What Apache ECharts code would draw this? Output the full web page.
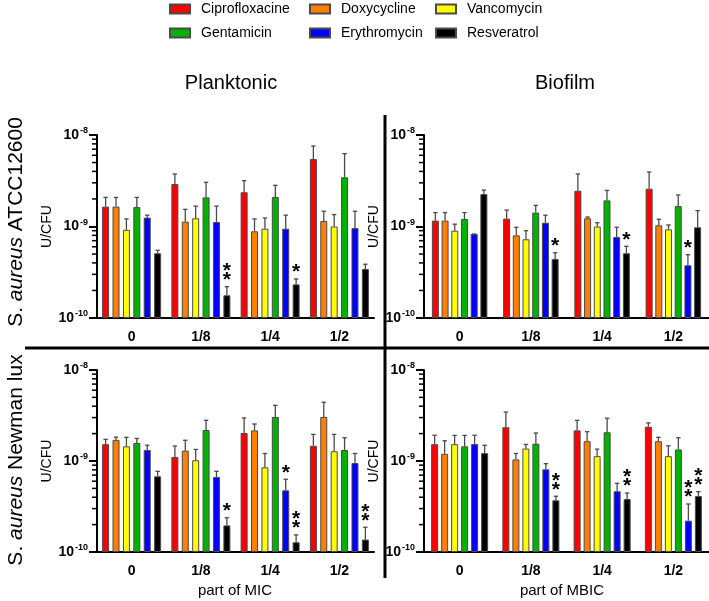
<!DOCTYPE html>
<html>
<head>
<meta charset="utf-8">
<script src="https://cdn.jsdelivr.net/npm/echarts@6/dist/echarts.min.js"></script>
<style>html,body{margin:0;padding:0;background:#fff}#c{width:709px;height:601px}</style>
</head>
<body>
<div id="c"></div>
<script>
// ---------- DATA ----------
const categories = ['0', '1/8', '1/4', '1/2'];
const drugs = ['Ciprofloxacine', 'Doxycycline', 'Vancomycin', 'Gentamicin', 'Erythromycin', 'Resveratrol'];
const yTickValues = [1e-10, 1e-9, 1e-8];
const minorTickValues = [2e-10, 3e-10, 4e-10, 5e-10, 6e-10, 7e-10, 8e-10, 9e-10, 2e-9, 3e-9, 4e-9, 5e-9, 6e-9, 7e-9, 8e-9, 9e-9];

// S. aureus ATCC12600 - Planktonic (mean, upper error end) per drug, per category
const plankATCC_mean = [
  [1.65e-9, 2.91e-9, 2.37e-9, 5.47e-9],
  [1.65e-9, 1.13e-9, 8.86e-10, 1.15e-9],
  [9.2e-10, 1.23e-9, 9.46e-10, 1.0e-9],
  [1.63e-9, 2.08e-9, 2.1e-9, 3.45e-9],
  [1.25e-9, 1.12e-9, 9.46e-10, 9.6e-10],
  [5.1e-10, 1.77e-10, 2.33e-10, 3.43e-10]
];
const plankATCC_err = [
  [2.08e-9, 3.75e-9, 3.17e-9, 7.58e-9],
  [2.08e-9, 1.54e-9, 1.21e-9, 1.47e-9],
  [1.21e-9, 1.67e-9, 1.24e-9, 1.35e-9],
  [2.08e-9, 3.04e-9, 2.82e-9, 6.25e-9],
  [1.33e-9, 1.67e-9, 1.33e-9, 1.47e-9],
  [5.5e-10, 2.2e-10, 2.67e-10, 3.87e-10]
];
const plankATCC_sig = [[5, 1, '**'], [5, 2, '*']];

// S. aureus ATCC12600 - Biofilm
const bioATCC_mean = [
  [1.16e-9, 1.22e-9, 2.46e-9, 2.59e-9],
  [1.16e-9, 8.0e-10, 1.23e-9, 1.03e-9],
  [9.0e-10, 7.25e-10, 1.0e-9, 9.3e-10],
  [1.21e-9, 1.42e-9, 1.93e-9, 1.67e-9],
  [8.28e-10, 1.1e-9, 7.68e-10, 3.77e-10],
  [2.26e-9, 4.42e-10, 5.1e-10, 9.8e-10]
];
const bioATCC_err = [
  [1.42e-9, 1.51e-9, 3.75e-9, 3.94e-9],
  [1.42e-9, 9.8e-10, 1.27e-9, 1.2e-9],
  [1.06e-9, 9.0e-10, 1.1e-9, 1.04e-9],
  [1.42e-9, 1.7e-9, 2.48e-9, 2.21e-9],
  [8.28e-10, 1.33e-9, 9.8e-10, 4.92e-10],
  [2.5e-9, 5.17e-10, 6.07e-10, 1.49e-9]
];
const bioATCC_sig = [[5, 1, '*'], [5, 2, '*'], [4, 3, '*']];

// S. aureus Newman lux - Planktonic
const plankNewman_mean = [
  [1.53e-9, 1.11e-9, 2.03e-9, 1.47e-9],
  [1.71e-9, 1.3e-9, 2.17e-9, 3.05e-9],
  [1.45e-9, 1.02e-9, 8.52e-10, 1.28e-9],
  [1.58e-9, 2.19e-9, 3.05e-9, 1.32e-9],
  [1.32e-9, 6.67e-10, 4.76e-10, 9.5e-10],
  [6.79e-10, 1.96e-10, 1.28e-10, 1.37e-10]
];
const plankNewman_err = [
  [1.73e-9, 1.46e-9, 2.97e-9, 1.96e-9],
  [1.83e-9, 1.69e-9, 2.55e-9, 4.42e-9],
  [1.82e-9, 1.34e-9, 1.21e-9, 1.96e-9],
  [1.77e-9, 2.8e-9, 4.09e-9, 1.8e-9],
  [1.49e-9, 7.7e-10, 6.3e-10, 1.21e-9],
  [7.7e-10, 2.38e-10, 1.54e-10, 1.87e-10]
];
const plankNewman_sig = [[5, 1, '*'], [4, 2, '*'], [5, 2, '**'], [5, 3, '**']];

// S. aureus Newman lux - Biofilm
const bioNewman_mean = [
  [1.53e-9, 2.35e-9, 2.17e-9, 2.38e-9],
  [1.2e-9, 1.04e-9, 1.65e-9, 1.65e-9],
  [1.53e-9, 1.37e-9, 1.13e-9, 1.13e-9],
  [1.45e-9, 1.55e-9, 2.07e-9, 1.34e-9],
  [1.54e-9, 8.1e-10, 4.65e-10, 2.21e-10],
  [1.22e-9, 3.7e-10, 3.82e-10, 4.12e-10]
];
const bioNewman_err = [
  [1.92e-9, 3.45e-9, 2.8e-9, 2.62e-9],
  [1.67e-9, 1.21e-9, 2.1e-9, 1.82e-9],
  [1.91e-9, 1.52e-9, 1.35e-9, 1.47e-9],
  [1.91e-9, 2.03e-9, 2.95e-9, 1.8e-9],
  [1.92e-9, 9.35e-10, 5.69e-10, 3.37e-10],
  [1.49e-9, 4.1e-10, 4.45e-10, 4.6e-10]
];
const bioNewman_sig = [[5, 1, '**'], [5, 2, '**'], [4, 3, '**'], [5, 3, '**']];

// ---------- STYLE / LAYOUT ----------
const FONT = '"Liberation Sans", Arial, Helvetica, sans-serif';
const colors = ['#ff0000', '#ff8000', '#ffff00', '#00b300', '#0000ff', '#000000'];
const BAR_W = 7;
const panels = [
  { mean: plankATCC_mean, err: plankATCC_err, sig: plankATCC_sig, grid: { left: 97, top: 135, width: 277, height: 183 }, gap: 3.4 },
  { mean: bioATCC_mean, err: bioATCC_err, sig: bioATCC_sig, grid: { left: 424, top: 135, width: 287, height: 183 }, gap: 2.7 },
  { mean: plankNewman_mean, err: plankNewman_err, sig: plankNewman_sig, grid: { left: 97, top: 370, width: 277, height: 182 }, gap: 3.4 },
  { mean: bioNewman_mean, err: bioNewman_err, sig: bioNewman_sig, grid: { left: 424, top: 370, width: 287, height: 182 }, gap: 3.0 }
];

function barOffset(i, gap) {
  const total = 6 * BAR_W + 5 * gap;
  return -total / 2 + i * (BAR_W + gap) + BAR_W / 2;
}

const grids = [], xAxes = [], yAxes = [], series = [];
panels.forEach((p, k) => {
  grids.push(Object.assign({ containLabel: false }, p.grid));
  xAxes.push({
    type: 'category', gridIndex: k, data: categories,
    axisLine: { onZero: false, lineStyle: { color: '#000', width: 2 } },
    axisTick: { alignWithLabel: true, length: 6, lineStyle: { color: '#000', width: 2 } },
    axisLabel: { fontFamily: FONT, fontWeight: 'bold', fontSize: 14, color: '#000', margin: 12 },
    splitLine: { show: false }
  });
  yAxes.push({
    type: 'log', logBase: 10, gridIndex: k, min: 1e-10, max: 1e-8, interval: 1, startValue: 1e-10,
    name: 'U/CFU', nameLocation: 'middle', nameGap: 40, nameRotate: 90,
    nameTextStyle: { fontFamily: FONT, fontSize: 14, color: '#000' },
    axisLine: { show: true, lineStyle: { color: '#000', width: 2 } },
    axisTick: { show: true, length: 8, lineStyle: { color: '#000', width: 2 } },
    axisLabel: {
      margin: 9, color: '#000',
      formatter: v => '{b|10}{s|' + Math.round(Math.log10(v)) + '}',
      rich: {
        b: { fontFamily: FONT, fontWeight: 'bold', fontSize: 14, color: '#000' },
        s: { fontFamily: FONT, fontWeight: 'bold', fontSize: 9, color: '#000', padding: [0, 0, 8, 1] }
      }
    },
    splitLine: { show: false }
  });
  drugs.forEach((d, i) => {
    series.push({
      name: d, type: 'bar', xAxisIndex: k, yAxisIndex: k,
      barWidth: BAR_W, barGap: (p.gap / BAR_W * 100) + '%',
      data: p.mean[i],
      itemStyle: { color: colors[i], borderColor: '#4a4a4a', borderWidth: 1 },
      emphasis: { disabled: true },
      animation: false, z: 2
    });
  });
  // error bars
  const errData = [];
  drugs.forEach((d, i) => categories.forEach((c, j) => errData.push([j, p.mean[i][j], p.err[i][j], i])));
  series.push({
    type: 'custom', xAxisIndex: k, yAxisIndex: k, animation: false, z: 3, silent: true,
    data: errData,
    renderItem: (params, api) => {
      const j = api.value(0), i = api.value(3);
      const top = api.coord([j, api.value(2)]);
      const base = api.coord([j, api.value(1)]);
      const x = top[0] + barOffset(i, p.gap);
      return { type: 'group', children: [
        { type: 'line', shape: { x1: x, y1: base[1], x2: x, y2: top[1] }, style: { stroke: '#4a4a4a', lineWidth: 1.3 } },
        { type: 'line', shape: { x1: x - 2.2, y1: top[1], x2: x + 2.2, y2: top[1] }, style: { stroke: '#4a4a4a', lineWidth: 1.3 } }
      ] };
    }
  });
  // significance marks
  series.push({
    type: 'custom', xAxisIndex: k, yAxisIndex: k, animation: false, z: 4, silent: true, clip: false,
    data: p.sig.map(s => [s[1], p.err[s[0]][s[1]], s[0]]),
    renderItem: (params, api) => {
      const s = p.sig[params.dataIndex];
      const pt = api.coord([api.value(0), api.value(1)]);
      const x = pt[0] + barOffset(api.value(2), p.gap);
      return { type: 'text', x: x, y: pt[1] - 2, style: {
        text: s[2].split('').join('\n'), fill: '#000', font: 'bold 21px ' + FONT,
        lineHeight: 9, align: 'center', verticalAlign: 'bottom'
      } };
    }
  });
  // minor ticks on log axis
  series.push({
    type: 'custom', xAxisIndex: k, yAxisIndex: k, animation: false, z: 4, silent: true, clip: false,
    data: minorTickValues.map(v => [0, v]),
    renderItem: (params, api) => {
      const y = api.coord([0, api.value(1)])[1];
      const x0 = params.coordSys.x;
      return { type: 'line', shape: { x1: x0 - 5, y1: y, x2: x0, y2: y }, style: { stroke: '#000', lineWidth: 1.5 } };
    }
  });
});

const legendX = [164, 304, 430];
const legendY = [-3, 21];
const legends = drugs.map((d, i) => ({
  data: [d], left: legendX[i % 3], top: legendY[Math.floor(i / 3)],
  itemWidth: 20, itemHeight: 9, icon: 'rect', selectedMode: false,
  textStyle: { fontFamily: FONT, fontSize: 14, color: '#000', padding: [0, 0, 0, 6] }
}));

const graphics = [
  { type: 'text', x: 231, y: 83, style: { text: 'Planktonic', font: '20px ' + FONT, fill: '#000', align: 'center', verticalAlign: 'middle' } },
  { type: 'text', x: 565, y: 83, style: { text: 'Biofilm', font: '20px ' + FONT, fill: '#000', align: 'center', verticalAlign: 'middle' } },
  { type: 'text', x: 235, y: 591, style: { text: 'part of MIC', font: '15px ' + FONT, fill: '#000', align: 'center', verticalAlign: 'middle' } },
  { type: 'text', x: 562, y: 591, style: { text: 'part of MBIC', font: '15px ' + FONT, fill: '#000', align: 'center', verticalAlign: 'middle' } },
  { type: 'text', x: 16, y: 222, rotation: Math.PI / 2, style: {
      text: '{n|S. }{i|aureus}{n| ATCC12600}', align: 'center', verticalAlign: 'middle',
      rich: { n: { fontFamily: FONT, fontSize: 21, fill: '#000' }, i: { fontFamily: FONT, fontSize: 21, fontStyle: 'italic', fill: '#000' } } } },
  { type: 'text', x: 16, y: 460, rotation: Math.PI / 2, style: {
      text: '{n|S. }{i|aureus}{n| Newman lux}', align: 'center', verticalAlign: 'middle',
      rich: { n: { fontFamily: FONT, fontSize: 21, fill: '#000' }, i: { fontFamily: FONT, fontSize: 21, fontStyle: 'italic', fill: '#000' } } } },
  { type: 'line', shape: { x1: 25, y1: 348, x2: 709, y2: 348 }, style: { stroke: '#000', lineWidth: 3 } },
  { type: 'line', shape: { x1: 385, y1: 115, x2: 385, y2: 578 }, style: { stroke: '#000', lineWidth: 3 } }
];

const chart = echarts.init(document.getElementById('c'), null, { renderer: 'canvas' });
chart.setOption({
  backgroundColor: '#fff',
  animation: false,
  legend: legends,
  grid: grids,
  xAxis: xAxes,
  yAxis: yAxes,
  series: series,
  graphic: graphics
});
</script>
</body>
</html>
